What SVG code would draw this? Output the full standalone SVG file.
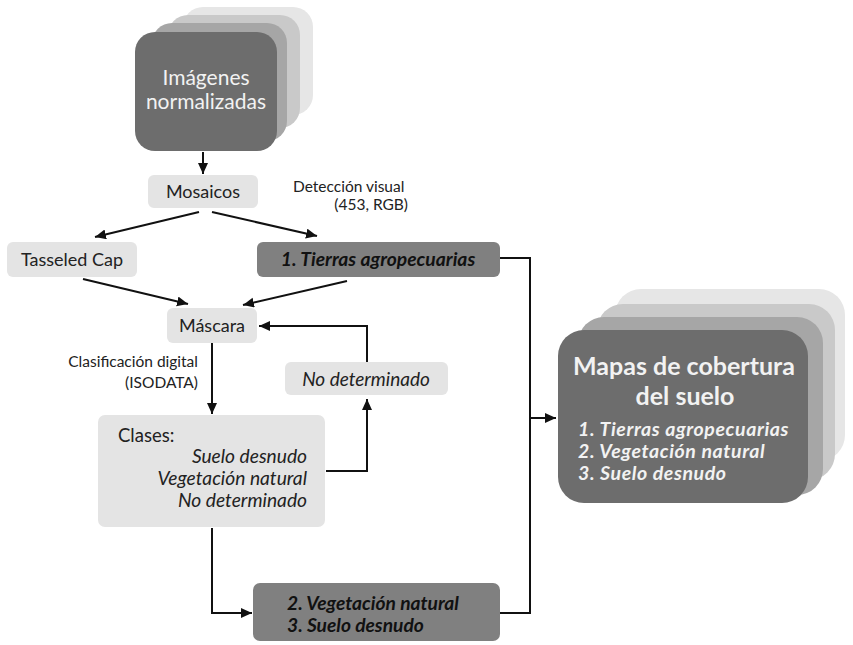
<svg xmlns="http://www.w3.org/2000/svg" width="853" height="645" viewBox="0 0 853 645">
<defs>
<marker id="ah" markerUnits="userSpaceOnUse" markerWidth="12" markerHeight="11" refX="11" refY="5" orient="auto">
<path d="M0,0 L11,5 L0,10 z" fill="#111"/>
</marker>
<style>
.light{fill:#e4e4e4}
.mid{fill:#808080}
.dark{fill:#6d6d6d}
.l2{fill:#a6a6a6}
.l3{fill:#c9c9c9}
.l4{fill:#e6e6e6}
.t{font-family:Lato,"Open Sans","Liberation Sans",sans-serif;fill:#222}
.it{font-style:italic}
.bi{font-style:italic;font-weight:bold;fill:#111}
.w{fill:#f2f2f2}
.c{stroke:#111;stroke-width:2;fill:none}
</style>
</defs>
<rect width="853" height="645" fill="#fff"/>

<g id="imagenes">
<rect class="l4" x="183" y="7" width="130" height="108" rx="20"/>
<rect class="l3" x="168" y="15" width="132" height="113" rx="20"/>
<rect class="l2" x="152" y="23" width="135" height="118" rx="20"/>
<rect class="dark" x="135" y="32" width="142" height="119" rx="20"/>
<text class="t w" x="206" y="85" font-size="21" text-anchor="middle">Imágenes</text>
<text class="t w" x="206" y="109" font-size="21" text-anchor="middle">normalizadas</text>
</g>

<g id="mosaicos">
<rect class="light" x="148" y="175" width="110" height="33" rx="6"/>
<text class="t" x="203" y="198" font-size="18" text-anchor="middle">Mosaicos</text>
</g>

<g id="deteccion">
<text class="t" x="293" y="192" font-size="15.5">Detección visual</text>
<text class="t" x="408" y="210" font-size="15.5" text-anchor="end">(453, RGB)</text>
</g>

<g id="tasseled">
<rect class="light" x="7" y="242" width="130" height="35" rx="6"/>
<text class="t" x="72" y="266" font-size="18" text-anchor="middle">Tasseled Cap</text>
</g>

<g id="tierras">
<rect class="mid" x="257" y="242" width="243" height="35" rx="6"/>
<text class="t bi" x="378" y="266" font-size="19.3" text-anchor="middle">1. Tierras agropecuarias</text>
</g>

<g id="mascara">
<rect class="light" x="167" y="308" width="90" height="35" rx="6"/>
<text class="t" x="212" y="332" font-size="18" text-anchor="middle">Máscara</text>
</g>

<g id="clasificacion">
<text class="t" x="198" y="367" font-size="15.5" text-anchor="end">Clasificación digital</text>
<text class="t" x="198" y="388" font-size="15.5" text-anchor="end">(ISODATA)</text>
</g>

<g id="nodeterminado">
<rect class="light" x="285" y="362" width="163" height="33" rx="6"/>
<text class="t it" x="366" y="386" font-size="19" text-anchor="middle">No determinado</text>
</g>

<g id="clases">
<rect class="light" x="98" y="415" width="227" height="112" rx="7"/>
<text class="t" x="118" y="442" font-size="18.5">Clases:</text>
<text class="t it" x="307" y="463" font-size="19.2" text-anchor="end">Suelo desnudo</text>
<text class="t it" x="307" y="485" font-size="19.2" text-anchor="end">Vegetación natural</text>
<text class="t it" x="307" y="507" font-size="19.2" text-anchor="end">No determinado</text>
</g>

<g id="vegsuelo">
<rect class="mid" x="253" y="583" width="247" height="58" rx="7"/>
<text class="t bi" x="287" y="610" font-size="19.2">2. Vegetación natural</text>
<text class="t bi" x="287" y="632" font-size="19.2">3. Suelo desnudo</text>
</g>

<g id="mapas">
<rect class="l4" x="615" y="289" width="230" height="172" rx="26"/>
<rect class="l3" x="597" y="304" width="238" height="176" rx="26"/>
<rect class="l2" x="578" y="317" width="245" height="178" rx="26"/>
<rect class="dark" x="558" y="330" width="250" height="173" rx="26"/>
<text class="t w" x="684" y="375" font-size="25" font-weight="bold" text-anchor="middle">Mapas de cobertura</text>
<text class="t w" x="685" y="405" font-size="25" font-weight="bold" text-anchor="middle">del suelo</text>
<text class="t w" x="578" y="436" font-size="19.5" font-style="italic" font-weight="bold" letter-spacing="0.6">1. Tierras agropecuarias</text>
<text class="t w" x="578" y="458" font-size="19.5" font-style="italic" font-weight="bold" letter-spacing="0.6">2. Vegetación natural</text>
<text class="t w" x="578" y="480" font-size="19.5" font-style="italic" font-weight="bold" letter-spacing="0.6">3. Suelo desnudo</text>
</g>

<g id="connectors">
<line class="c" x1="203" y1="152" x2="203" y2="174" marker-end="url(#ah)"/>
<line class="c" x1="199" y1="212" x2="95" y2="237" marker-end="url(#ah)"/>
<line class="c" x1="212" y1="212" x2="317" y2="236" marker-end="url(#ah)"/>
<line class="c" x1="83" y1="279" x2="188" y2="304" marker-end="url(#ah)"/>
<line class="c" x1="347" y1="281" x2="243" y2="305" marker-end="url(#ah)"/>
<line class="c" x1="212" y1="343" x2="212" y2="414" marker-end="url(#ah)"/>
<polyline class="c" points="326,471 367,471 367,399" marker-end="url(#ah)"/>
<polyline class="c" points="367,362 367,326 259,326" marker-end="url(#ah)"/>
<polyline class="c" points="212,528 212,613 252,613" marker-end="url(#ah)"/>
<polyline class="c" points="500,258 530,258 530,613 500,613"/>
<line class="c" x1="530" y1="418" x2="556" y2="418" marker-end="url(#ah)"/>
</g>
</svg>
